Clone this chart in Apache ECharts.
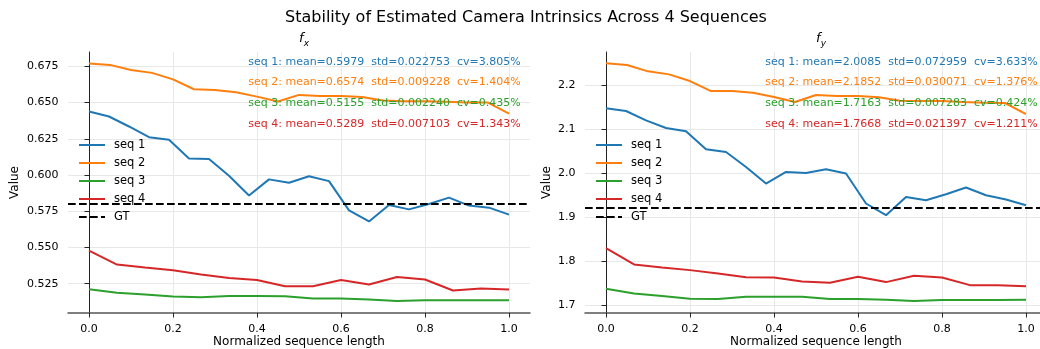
<!DOCTYPE html>
<html>
<head>
<meta charset="utf-8">
<script src="https://cdn.jsdelivr.net/npm/echarts@6/dist/echarts.min.js"></script>
<style>
  html, body { margin: 0; padding: 0; background: #fff; }
  #chart { width: 1040px; height: 349px; }
</style>
</head>
<body>
<div id="chart"></div>
<script>
const seqNames = ['seq 1', 'seq 2', 'seq 3', 'seq 4'];
const colors = ['#1f77b4', '#ff7f0e', '#2ca02c', '#d62728'];
const xTicks = [0, 0.2, 0.4, 0.6, 0.8, 1.0];

// f_x
const fxSeq1 = [0.6438, 0.6404, 0.6335, 0.6261, 0.6243, 0.6114, 0.6110, 0.5995, 0.5859, 0.5970, 0.5947,
  0.5992, 0.5958, 0.5756, 0.5680, 0.5793, 0.5763, 0.5800, 0.5844, 0.5789, 0.5775, 0.5727];
const fxSeq2 = [0.6769, 0.6760, 0.6725, 0.6705, 0.6660, 0.6592, 0.6587, 0.6571, 0.6541, 0.6507, 0.6553,
  0.6546, 0.6546, 0.6539, 0.6514, 0.6509, 0.6509, 0.6505, 0.6500, 0.6500, 0.6424];
const fxSeq3 = [0.5212, 0.5187, 0.5176, 0.5162, 0.5157, 0.5166, 0.5166, 0.5164, 0.5148, 0.5148, 0.5141,
  0.5130, 0.5136, 0.5136, 0.5136, 0.5136];
const fxSeq4 = [0.5479, 0.5382, 0.5362, 0.5343, 0.5313, 0.5290, 0.5276, 0.5233, 0.5233, 0.5276, 0.5245,
  0.5297, 0.5279, 0.5203, 0.5217, 0.5210];
const fxGT = 0.5802;
const fxTicks = [0.525, 0.55, 0.575, 0.6, 0.625, 0.65, 0.675];
const fxStats = [
  'seq 1: mean=0.5979  std=0.022753  cv=3.805%',
  'seq 2: mean=0.6574  std=0.009228  cv=1.404%',
  'seq 3: mean=0.5155  std=0.002240  cv=0.435%',
  'seq 4: mean=0.5289  std=0.007103  cv=1.343%'
];

// f_y
const fySeq1 = [2.1477, 2.1415, 2.1203, 2.1029, 2.0953, 2.0543, 2.0482, 2.0141, 1.9763, 2.0027, 2.0004,
  2.0088, 1.9990, 1.9308, 1.9041, 1.9458, 1.9383, 1.9519, 1.9672, 1.9497, 1.9399, 1.9269];
const fySeq2 = [2.2501, 2.2462, 2.2319, 2.2250, 2.2098, 2.1870, 2.1870, 2.1833, 2.1734, 2.1620, 2.1780,
  2.1757, 2.1757, 2.1727, 2.1651, 2.1643, 2.1643, 2.1620, 2.1606, 2.1598, 2.1347];
const fySeq3 = [1.7364, 1.7259, 1.7198, 1.7136, 1.7130, 1.7182, 1.7182, 1.7182, 1.7130, 1.7130, 1.7116,
  1.7086, 1.7107, 1.7107, 1.7107, 1.7116];
const fySeq4 = [1.8290, 1.7919, 1.7851, 1.7790, 1.7714, 1.7630, 1.7623, 1.7532, 1.7500, 1.7637, 1.7517,
  1.7660, 1.7623, 1.7448, 1.7448, 1.7425];
const fyGT = 1.9194;
const fyTicks = [1.7, 1.8, 1.9, 2.0, 2.1, 2.2];
const fyStats = [
  'seq 1: mean=2.0085  std=0.072959  cv=3.633%',
  'seq 2: mean=2.1852  std=0.030071  cv=1.376%',
  'seq 3: mean=1.7163  std=0.007283  cv=0.424%',
  'seq 4: mean=1.7668  std=0.021397  cv=1.211%'
];

const FONT = 'DejaVu Sans';
const GT_DASH = [7.7, 3.3];
const chart = echarts.init(document.getElementById('chart'), null, { renderer: 'canvas' });

// x = normalized position along the sequence
function toPoints(arr) {
  return arr.map((v, i) => [i / (arr.length - 1), v]);
}

// panel layout (pixels)
const panels = [
  { left: 68, width: 462, sub: 'x', seqs: [fxSeq1, fxSeq2, fxSeq3, fxSeq4], gt: fxGT, ticks: fxTicks,
    ymin: 0.5048, ymax: 0.6849, digits: 3, stats: fxStats, nameGap: 47 },
  { left: 585, width: 462, sub: 'y', seqs: [fySeq1, fySeq2, fySeq3, fySeq4], gt: fyGT, ticks: fyTicks,
    ymin: 1.6813, ymax: 2.2760, digits: 1, stats: fyStats, nameGap: 32 }
];
const gridTop = 52, gridBottom = 36;

const grid = [], xAxis = [], yAxis = [], series = [], legend = [], graphic = [];
const title = [{
  text: 'Stability of Estimated Camera Intrinsics Across 4 Sequences',
  left: 521, top: 5, textAlign: 'center',
  textStyle: { fontFamily: FONT, fontSize: 16, fontWeight: 'normal', color: '#000' }
}];

panels.forEach((p, g) => {
  grid.push({ left: p.left, right: 1040 - p.left - p.width, top: gridTop, bottom: gridBottom,
    containLabel: false, outerBoundsMode: 'none' });

  xAxis.push({
    type: 'value', gridIndex: g, min: -0.05, max: 1.05,
    name: 'Normalized sequence length', nameLocation: 'middle', nameGap: 23, nameMoveOverlap: false,
    nameTextStyle: { fontFamily: FONT, fontSize: 12, color: '#000' },
    axisLine: { show: true, onZero: false, lineStyle: { color: '#555', width: 1.5 } },
    axisTick: { show: true, customValues: xTicks, length: 4.5, lineStyle: { color: '#222', width: 1 } },
    axisLabel: { customValues: xTicks, formatter: v => v.toFixed(1), margin: 11,
      fontFamily: FONT, fontSize: 11, color: '#000' },
    splitLine: { show: true, lineStyle: { color: '#e8e8e8', width: 1 } }
  });

  yAxis.push({
    type: 'value', gridIndex: g, min: p.ymin, max: p.ymax,
    name: 'Value', nameLocation: 'middle', nameGap: p.nameGap, nameMoveOverlap: false,
    nameTextStyle: { fontFamily: FONT, fontSize: 12, color: '#000' },
    axisLine: { show: true, lineStyle: { color: '#222', width: 1 } },
    axisTick: { show: true, customValues: p.ticks, length: 4.5, lineStyle: { color: '#222', width: 1 } },
    axisLabel: { customValues: p.ticks, formatter: v => v.toFixed(p.digits), margin: 9.5,
      fontFamily: FONT, fontSize: 11, color: '#000' },
    splitLine: { show: true, lineStyle: { color: '#e8e8e8', width: 1 } }
  });

  p.seqs.forEach((arr, k) => {
    series.push({
      name: seqNames[k], type: 'line', xAxisIndex: g, yAxisIndex: g,
      data: toPoints(arr), symbol: 'none', showSymbol: false,
      lineStyle: { color: colors[k], width: 2 }, itemStyle: { color: colors[k] },
      z: 2
    });
  });
  series.push({
    name: 'GT', type: 'line', xAxisIndex: g, yAxisIndex: g, data: [],
    symbol: 'none', lineStyle: { color: '#000', width: 2, type: GT_DASH }, itemStyle: { color: '#000' },
    markLine: {
      silent: true, symbol: ['none', 'none'], label: { show: false },
      lineStyle: { color: '#000', width: 2, type: GT_DASH },
      data: [{ yAxis: p.gt }]
    },
    z: 3
  });

  legend.push({
    orient: 'vertical', left: p.left + 10, top: 138, padding: 0,
    itemWidth: 26, itemHeight: 14, itemGap: 4,
    data: seqNames.concat(['GT']), selectedMode: false,
    itemStyle: { opacity: 0 },
    lineStyle: { width: 2 },
    textStyle: { fontFamily: FONT, fontSize: 11.5, color: '#000', lineHeight: 14, padding: [0, 0, 0, 4] }
  });

  title.push({
    text: '{i|f}{s|' + p.sub + '}', left: p.left + p.width / 2, top: 25, textAlign: 'center',
    textStyle: {
      rich: {
        i: { fontFamily: FONT, fontStyle: 'italic', fontWeight: 'normal', fontSize: 13, color: '#000',
          lineHeight: 18, verticalAlign: 'middle' },
        s: { fontFamily: FONT, fontStyle: 'italic', fontWeight: 'normal', fontSize: 9, color: '#000',
          lineHeight: 8, verticalAlign: 'bottom' }
      }
    }
  });

  const textX = p.left + 0.98 * p.width;
  p.stats.forEach((s, k) => {
    graphic.push({
      type: 'text', x: textX, y: 61.7 + k * 20.67, z: 100,
      style: { text: s, align: 'right', verticalAlign: 'middle', fill: colors[k],
        font: '11px "DejaVu Sans"' }
    });
  });
});

chart.setOption({
  backgroundColor: '#ffffff',
  animation: false,
  title: title,
  grid: grid,
  xAxis: xAxis,
  yAxis: yAxis,
  legend: legend,
  series: series,
  graphic: graphic
});
</script>
</body>
</html>
